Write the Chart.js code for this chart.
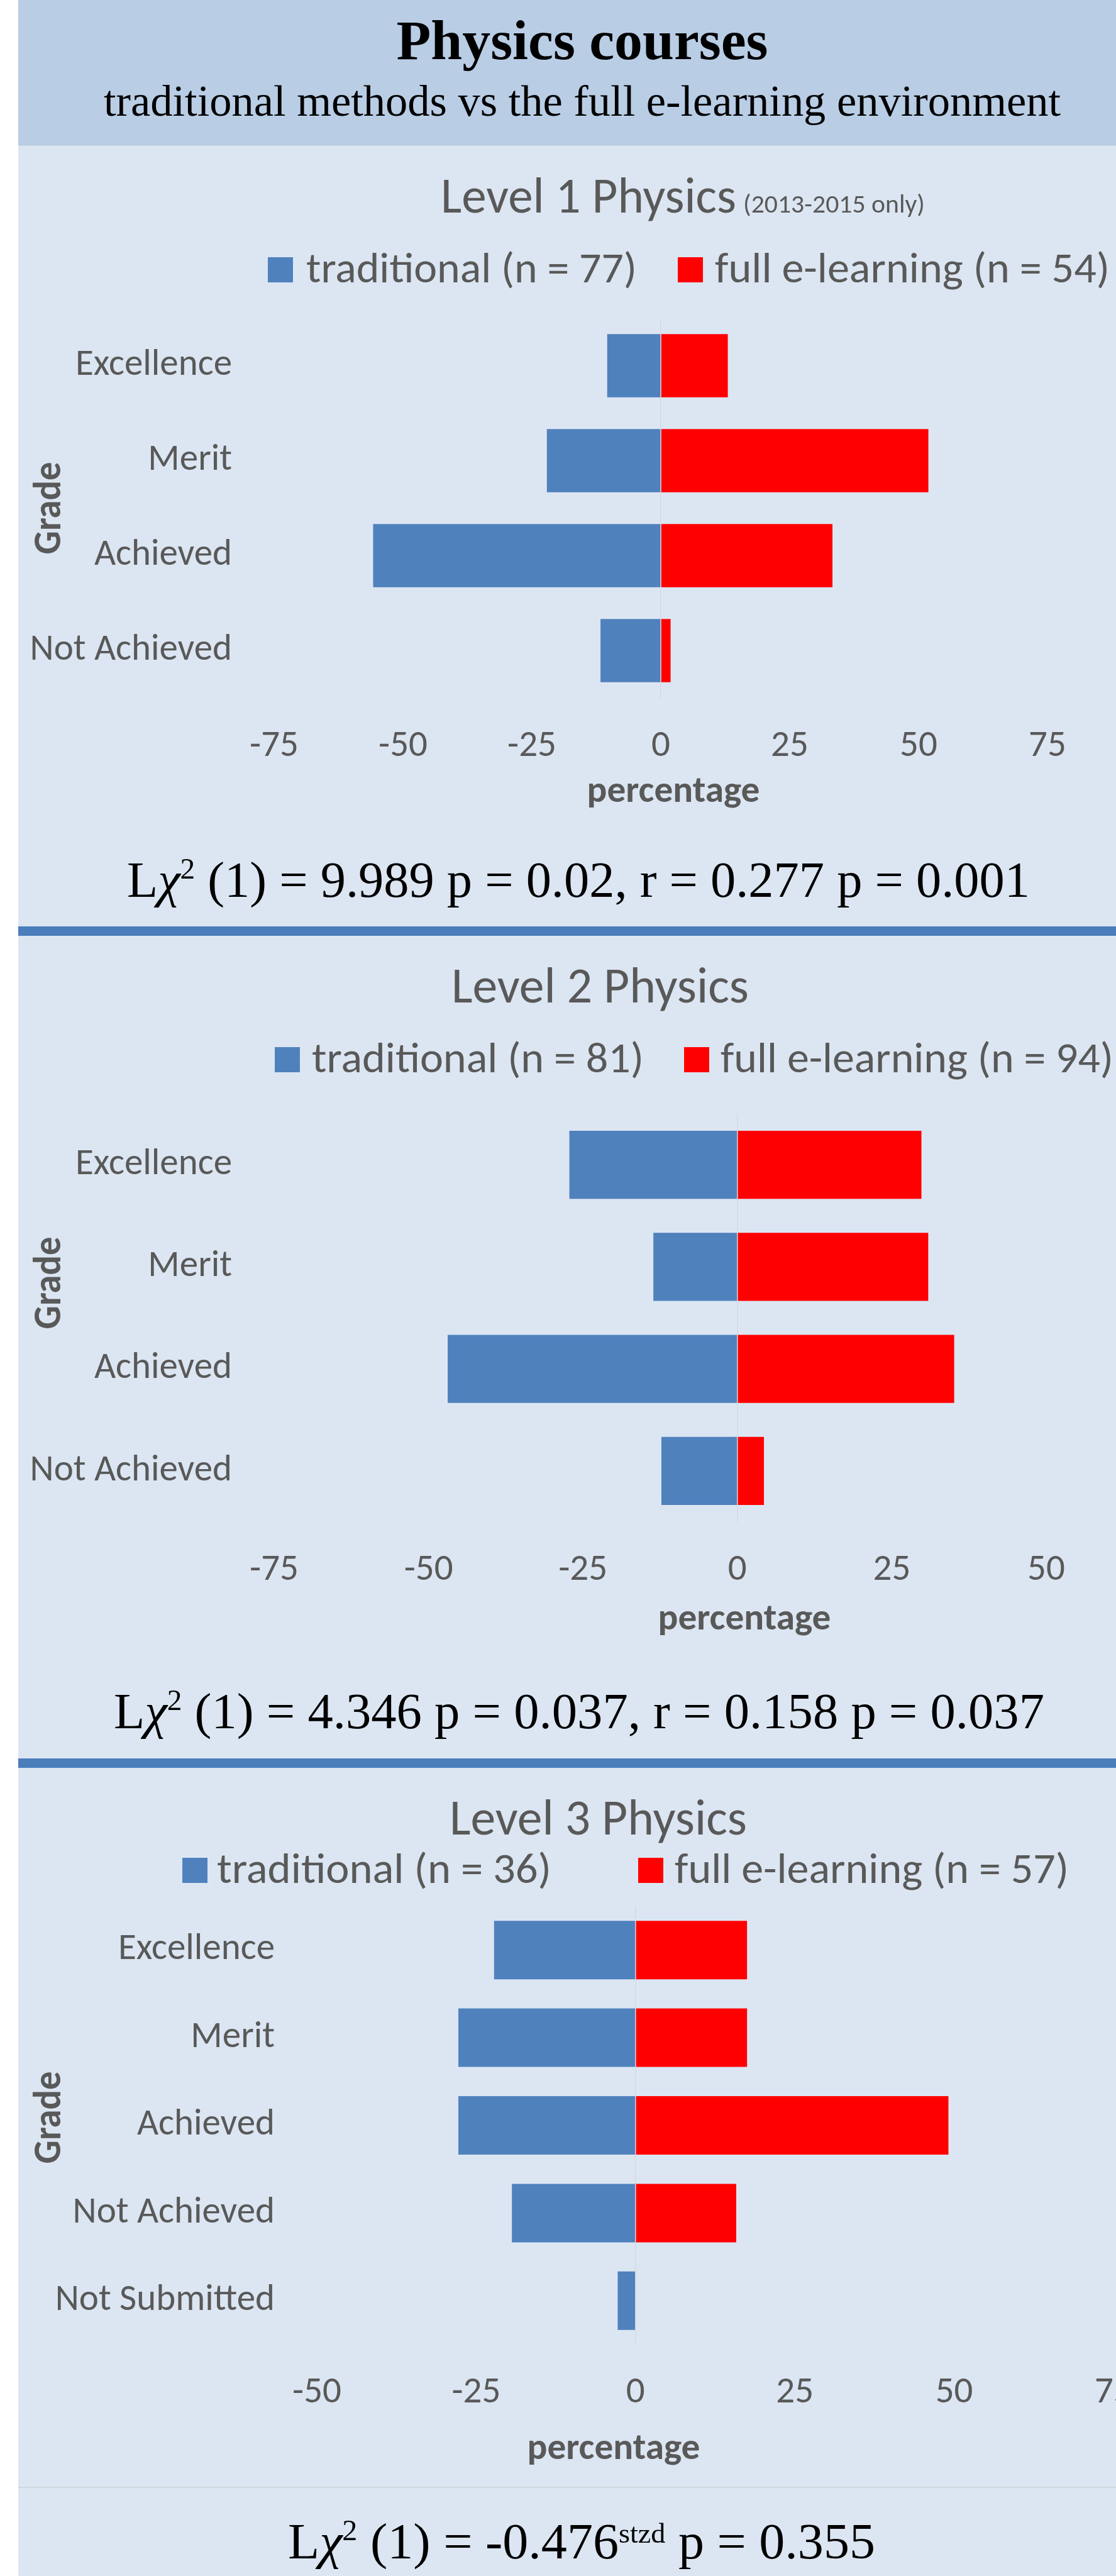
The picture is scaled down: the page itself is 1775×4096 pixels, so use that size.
<!DOCTYPE html>
<html>
<head>
<meta charset="utf-8">
<script src="https://cdn.jsdelivr.net/npm/chart.js@4.4.1/dist/chart.umd.min.js"></script>
<style>
  html, body { margin: 0; padding: 0; width: 1775px; height: 4096px; overflow: hidden; background: #ffffff; }
  .band { position: absolute; }
  canvas { position: absolute; left: 0; }
  #overlay { position: absolute; left: 0; top: 0; z-index: 5; pointer-events: none; }
</style>
</head>
<body>
<script>
// ---------------- data ----------------
const gradesL12 = ['Excellence', 'Merit', 'Achieved', 'Not Achieved'];
const gradesL3 = ['Excellence', 'Merit', 'Achieved', 'Not Achieved', 'Not Submitted'];

const l1Labels = ['traditional (n = 77)', 'full e-learning (n = 54)'];
const l1Traditional = [-10.4, -22.1, -55.8, -11.7];
const l1Elearning = [13.0, 51.9, 33.3, 1.9];
const l1Ticks = [-75, -50, -25, 0, 25, 50, 75];

const l2Labels = ['traditional (n = 81)', 'full e-learning (n = 94)'];
const l2Traditional = [-27.2, -13.6, -46.9, -12.3];
const l2Elearning = [29.8, 30.9, 35.1, 4.3];
const l2Ticks = [-75, -50, -25, 0, 25, 50];

const l3Labels = ['traditional (n = 36)', 'full e-learning (n = 57)'];
const l3Traditional = [-22.2, -27.8, -27.8, -19.4, -2.8];
const l3Elearning = [17.5, 17.5, 49.1, 15.8, 0];
const l3Ticks = [-50, -25, 0, 25, 50, 75];
</script>

<div class="band" style="left:29px;top:0;width:1746px;height:232px;background:#B9CDE5;"></div>
<div class="band" style="left:29px;top:231px;width:1746px;height:1px;background:#C9D3DE;"></div>
<div class="band" style="left:29px;top:232px;width:1746px;height:3864px;background:#DCE6F2;"></div>
<div class="band" style="left:29px;top:1473px;width:1746px;height:15px;background:#4A7EBB;"></div>
<div class="band" style="left:29px;top:2796px;width:1746px;height:15px;background:#4A7EBB;"></div>
<div class="band" style="left:29px;top:3954px;width:1746px;height:2px;background:#D0D6DE;"></div>

<canvas id="c1" width="1775" height="1078" style="top:232px;width:1775px;height:1078px;"></canvas>
<canvas id="c2" width="1775" height="1132" style="top:1488px;width:1775px;height:1132px;"></canvas>
<canvas id="c3" width="1775" height="1134" style="top:2811px;width:1775px;height:1134px;"></canvas>

<svg id="overlay" width="1775" height="4096" xmlns="http://www.w3.org/2000/svg"></svg>

<script>
const BLUE = '#4F81BD';
const RED = '#FF0000';
const GRAY = '#595959';
const SANS = "Carlito, 'Liberation Sans Narrow', 'DejaVu Sans Condensed', 'Open Sans', sans-serif";
const SERIF = "'Liberation Serif', 'Times New Roman', serif";

function makeChart(id, cats, trad, elearn, labels, ticks, geo) {
  return new Chart(document.getElementById(id), {
    type: 'bar',
    data: {
      labels: cats,
      datasets: [
        { label: labels[0], data: trad, backgroundColor: BLUE, borderWidth: 0 },
        { label: labels[1], data: elearn, backgroundColor: RED, borderWidth: 0 }
      ]
    },
    options: {
      indexAxis: 'y',
      responsive: false,
      animation: false,
      devicePixelRatio: 1,
      layout: { padding: { left: 0, right: geo.padRight, top: geo.padTop, bottom: 0 } },
      datasets: { bar: { barPercentage: 1, categoryPercentage: 0.667 } },
      plugins: { legend: { display: false }, tooltip: { enabled: false }, title: { display: false } },
      scales: {
        x: {
          stacked: true,
          min: ticks[0],
          max: ticks[ticks.length - 1],
          afterBuildTicks: s => { s.ticks = ticks.map(v => ({ value: v })); },
          afterFit: s => { s.height = geo.xHeight; s.paddingLeft = 0; s.paddingRight = 0; },
          grid: {
            drawTicks: false,
            lineWidth: 1.5,
            color: c => (c.tick && c.tick.value === 0) ? '#D3D9E0' : 'rgba(0,0,0,0)'
          },
          border: { display: false },
          ticks: { color: GRAY, font: { family: SANS, size: 59 }, padding: 42, maxRotation: 0, autoSkip: false }
        },
        y: {
          stacked: true,
          afterFit: s => { s.width = geo.yWidth; s.paddingTop = 0; s.paddingBottom = 0; },
          grid: { display: false },
          border: { display: false },
          ticks: { color: GRAY, font: { family: SANS, size: 59 }, padding: 59, autoSkip: false }
        }
      }
    }
  });
}

const ch1 = makeChart('c1', gradesL12, l1Traditional, l1Elearning, l1Labels, l1Ticks,
  { padTop: 274, padRight: 109, yWidth: 436, xHeight: 200 });
const ch2 = makeChart('c2', gradesL12, l2Traditional, l2Elearning, l2Labels, l2Ticks,
  { padTop: 283, padRight: 111, yWidth: 436, xHeight: 200 });
const ch3 = makeChart('c3', gradesL3, l3Traditional, l3Elearning, l3Labels, l3Ticks,
  { padTop: 220, padRight: 4, yWidth: 504, xHeight: 217 });

// ---------------- overlay text ----------------
const NS = 'http://www.w3.org/2000/svg';
const svg = document.getElementById('overlay');
function txt(str, attrs) {
  const t = document.createElementNS(NS, 'text');
  for (const k in attrs) t.setAttribute(k, attrs[k]);
  t.textContent = str;
  svg.appendChild(t);
  return t;
}
function rect(attrs) {
  const r = document.createElementNS(NS, 'rect');
  for (const k in attrs) r.setAttribute(k, attrs[k]);
  svg.appendChild(r);
}

// header
txt('Physics courses', { x: 926, y: 94, 'text-anchor': 'middle', 'font-family': SERIF, 'font-weight': 'bold',
  'font-size': 88, fill: '#000', textLength: 591, lengthAdjust: 'spacingAndGlyphs' });
txt('traditional methods vs the full e-learning environment', { x: 926, y: 184, 'text-anchor': 'middle',
  'font-family': SERIF, 'font-size': 70, fill: '#000', textLength: 1522, lengthAdjust: 'spacingAndGlyphs' });

// chart titles
const tAttrs = { 'font-family': SANS, fill: GRAY, lengthAdjust: 'spacingAndGlyphs' };
txt('Level 1 Physics', Object.assign({ x: 701, y: 338, 'font-size': 80, textLength: 470 }, tAttrs));
txt('(2013-2015 only)', Object.assign({ x: 1182, y: 338, 'font-size': 41, textLength: 289 }, tAttrs));
txt('Level 2 Physics', Object.assign({ x: 718, y: 1594, 'font-size': 80, textLength: 473 }, tAttrs));
txt('Level 3 Physics', Object.assign({ x: 715, y: 2917, 'font-size': 80, textLength: 473 }, tAttrs));

// legends (from chart datasets)
function legend(chart, items) {
  chart.data.datasets.forEach((ds, i) => {
    const it = items[i];
    rect({ x: it.bx, y: it.base - 40, width: 40, height: 40, fill: ds.backgroundColor });
    txt(ds.label, Object.assign({ x: it.tx, y: it.base, 'font-size': 67, textLength: it.w }, tAttrs));
  });
}
legend(ch1, [{ bx: 426, tx: 487, w: 526, base: 449 }, { bx: 1078, tx: 1137, w: 628, base: 449 }]);
legend(ch2, [{ bx: 437, tx: 496, w: 528, base: 1705 }, { bx: 1088, tx: 1146, w: 625, base: 1705 }]);
legend(ch3, [{ bx: 290, tx: 345, w: 532, base: 2994 }, { bx: 1015, tx: 1073, w: 627, base: 2994 }]);

// axis titles
const aAttrs = { 'font-family': SANS, 'font-weight': 'bold', fill: GRAY, 'text-anchor': 'middle', lengthAdjust: 'spacingAndGlyphs' };
txt('percentage', Object.assign({ x: 1071, y: 1275, 'font-size': 58, textLength: 275 }, aAttrs));
txt('percentage', Object.assign({ x: 1184, y: 2591, 'font-size': 58, textLength: 275 }, aAttrs));
txt('percentage', Object.assign({ x: 976, y: 3910, 'font-size': 58, textLength: 275 }, aAttrs));
[808, 2040, 3367].forEach(cy => {
  txt('Grade', Object.assign({ transform: `translate(96 ${cy}) rotate(-90)`, x: 0, y: 0, 'font-size': 62, textLength: 147 }, aAttrs));
});

// statistics lines
function stat(cx, y, w, parts) {
  const t = document.createElementNS(NS, 'text');
  t.setAttribute('x', cx); t.setAttribute('y', y);
  t.setAttribute('text-anchor', 'middle');
  t.setAttribute('font-family', SERIF);
  t.setAttribute('font-size', 80);
  t.setAttribute('fill', '#000');
  t.setAttribute('textLength', w);
  t.setAttribute('lengthAdjust', 'spacingAndGlyphs');
  parts.forEach(p => {
    const s = document.createElementNS(NS, 'tspan');
    if (p.it) s.setAttribute('font-style', 'italic');
    if (p.sz) s.setAttribute('font-size', p.sz);
    if (p.dy) s.setAttribute('dy', p.dy);
    s.textContent = p.t;
    t.appendChild(s);
  });
  svg.appendChild(t);
}
stat(920, 1426, 1436, [{ t: 'L' }, { t: 'χ', it: 1 }, { t: '2', sz: 47, dy: -29 },
  { t: '\u00a0(1) = 9.989 p = 0.02, r = 0.277 p = 0.001', dy: 29 }]);
stat(921, 2748, 1480, [{ t: 'L' }, { t: 'χ', it: 1 }, { t: '2', sz: 47, dy: -29 },
  { t: '\u00a0(1) = 4.346 p = 0.037, r = 0.158 p = 0.037', dy: 29 }]);
stat(925, 4068, 934, [{ t: 'L' }, { t: 'χ', it: 1 }, { t: '2', sz: 47, dy: -29 },
  { t: '\u00a0(1) = -0.476', dy: 29 }, { t: 'stzd', sz: 45, dy: -25 }, { t: '\u00a0p = 0.355', dy: 25 }]);
</script>
</body>
</html>
